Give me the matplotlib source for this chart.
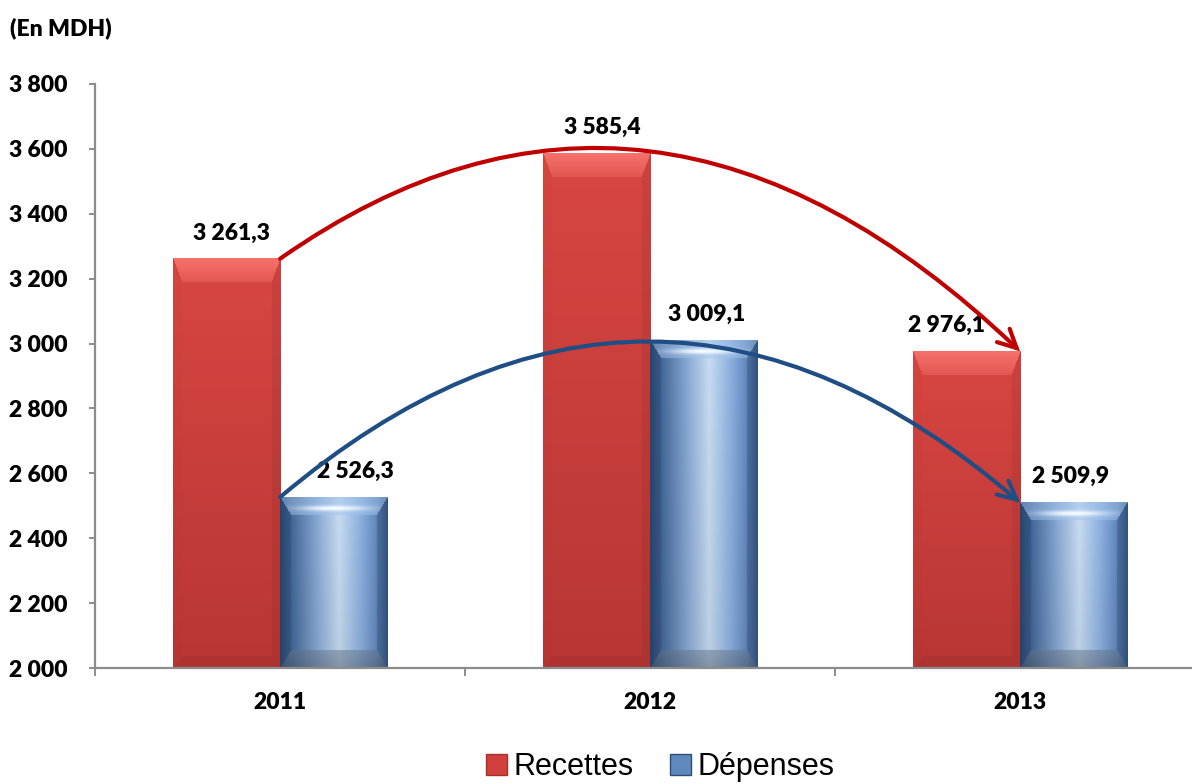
import numpy as np
import matplotlib
matplotlib.use("Agg")
import matplotlib.pyplot as plt
from matplotlib.path import Path
from matplotlib.patches import FancyArrowPatch, Rectangle

# ---- data -------------------------------------------------------------
years = ["2011", "2012", "2013"]
recettes = [3261.3, 3585.4, 2976.1]
depenses = [2526.3, 3009.1, 2509.9]
value_labels_rec = ["3 261,3", "3 585,4", "2 976,1"]
value_labels_dep = ["2 526,3", "3 009,1", "2 509,9"]
yticks = [2000, 2200, 2400, 2600, 2800, 3000, 3200, 3400, 3600, 3800]
ytick_labels = ["2 000", "2 200", "2 400", "2 600", "2 800",
                "3 000", "3 200", "3 400", "3 600", "3 800"]
series_names = ["Recettes", "Dépenses"]

Y_MIN, Y_MAX = 2000, 3800
BAR_W = 0.29
BOLD = dict(family=["Lato", "DejaVu Sans"], weight="heavy")

fig = plt.figure(figsize=(11.92, 7.84), dpi=100)
W_PX, H_PX = 1192, 784
ax_left, ax_bottom = 95 / W_PX, 1 - 668 / H_PX
ax = fig.add_axes([ax_left, ax_bottom, 1 - ax_left + 0.02, (668 - 84) / H_PX])
ax.set_ylim(Y_MIN, Y_MAX)
ax.set_xlim(-0.5, -0.5 + (1192 - 95 + 0.02 * W_PX) / 370.0)


def bevel_faces(w, h, d_top, d_side, d_bot):
    """Split a w x h pixel bar into bevel faces: 0 top, 1 left, 2 right, 3 bottom, 4 front."""
    i = np.arange(h)[:, None] * np.ones((1, w))
    j = np.ones((h, 1)) * np.arange(w)[None, :]
    dist = np.stack([i / d_top, j / d_side, (w - 1 - j) / d_side, (h - 1 - i) / d_bot])
    face = np.argmin(dist, axis=0)
    face[dist.min(axis=0) >= 1] = 4
    return face, i, j


def red_image(w, h):
    dt = min(24, h // 3)
    face, i, j = bevel_faces(w, h, dt, 9, 12)
    t = (i / max(h - 1, 1))[..., None]
    front = (1 - t) * np.array([216, 70, 66]) + t * np.array([184, 54, 52])
    img = front.copy()
    tt = (i / max(dt, 1))[..., None]
    top = (1 - tt) * np.array([246, 114, 108]) + tt * np.array([226, 86, 82])
    img[face == 0] = top[face == 0]
    img[face == 1] = (front * 0.985)[face == 1]
    img[face == 2] = (front * 0.94)[face == 2]
    img[face == 3] = (front * 0.94)[face == 3]
    return np.clip(img / 255.0, 0, 1)


def blue_image(w, h):
    dt = min(18, h // 3)
    face, i, j = bevel_faces(w, h, dt, 11, 18)
    u = j / max(w - 1, 1)
    stops = [0.0, 0.12, 0.35, 0.55, 0.75, 0.9, 1.0]
    cols = np.array([[40, 70, 110], [72, 108, 156], [138, 170, 212],
                     [200, 220, 242], [140, 176, 222], [98, 136, 190],
                     [56, 88, 132]])
    prof = np.stack([np.interp(u, stops, cols[:, k]) for k in range(3)], axis=-1)
    t = (i / max(h - 1, 1))[..., None]
    front = prof * (1 - 0.06 * t)
    img = front.copy()
    # top bevel: lighter with a bright highlight line
    tt = i / max(dt, 1)
    glow = np.exp(-((tt - 0.6) / 0.15) ** 2) * np.exp(-((u - 0.5) / 0.3) ** 2)
    top = 0.5 * prof + 0.5 * np.array([160, 194, 234])
    top = top + glow[..., None] * (np.array([248, 252, 255]) - top)
    img[face == 0] = top[face == 0]
    img[face == 1] = (0.65 * front + 0.35 * np.array([40, 70, 112]))[face == 1]
    img[face == 2] = (0.65 * front + 0.35 * np.array([44, 74, 116]))[face == 2]
    tb = (1 - (h - 1 - i) / 18.0)[..., None]
    bottom = 0.5 * front + 0.5 * ((1 - tb) * np.array([100, 118, 140])
                                  + tb * np.array([80, 90, 104]))
    img[face == 3] = bottom[face == 3]
    return np.clip(img / 255.0, 0, 1)


def draw_bar(x0, x1, top, maker):
    p0 = ax.transData.transform((x0, Y_MIN))
    p1 = ax.transData.transform((x1, top))
    w = max(int(round(p1[0] - p0[0])), 4)
    h = max(int(round(p1[1] - p0[1])), 4)
    ax.imshow(maker(w, h), extent=(x0, x1, Y_MIN, top), aspect="auto",
              interpolation="bilinear", zorder=2, origin="upper")


xs = np.arange(len(years))
for k in range(len(years)):
    draw_bar(xs[k] - BAR_W, xs[k], recettes[k], red_image)
    draw_bar(xs[k], xs[k] + BAR_W, depenses[k], blue_image)

# value labels above bars (small horizontal nudges keep them clear of arrows)
rec_dx = [4, 4, -14]
dep_dx = [16, 2, -2]
for k in range(len(years)):
    ax.annotate(value_labels_rec[k], (xs[k] - BAR_W / 2, recettes[k]),
                xytext=(rec_dx[k], 11), textcoords="offset points",
                ha="center", va="bottom", fontsize=16.5, color="black", **BOLD)
    ax.annotate(value_labels_dep[k], (xs[k] + BAR_W / 2, depenses[k]),
                xytext=(dep_dx[k], 11), textcoords="offset points",
                ha="center", va="bottom", fontsize=16.5, color="black", **BOLD)


# curved trend arrows, quadratic Bezier from the 2011 to the 2013 bars
def trend_arrow(y0, ymid, y2, color):
    cy = 2 * ymid - 0.5 * (y0 + y2)
    path = Path([(xs[0], y0), (xs[1], cy), (xs[2], y2)],
                [Path.MOVETO, Path.CURVE3, Path.CURVE3])
    arr = FancyArrowPatch(path=path, arrowstyle="->,head_length=0.6,head_width=0.3",
                          mutation_scale=22, lw=3.0, color=color, zorder=4,
                          capstyle="round", joinstyle="miter")
    ax.add_patch(arr)


trend_arrow(recettes[0], recettes[1] + 5, recettes[2], "#C00000")
trend_arrow(depenses[0], depenses[1] - 5, depenses[2], "#1F4E85")

# axes styling
for s in ["top", "right"]:
    ax.spines[s].set_visible(False)
for s in ["left", "bottom"]:
    ax.spines[s].set_color("#8C8C8C")
    ax.spines[s].set_linewidth(1.6)
    ax.spines[s].set_zorder(3)

ax.set_yticks(yticks)
ax.set_yticklabels(ytick_labels, fontsize=16.5, **BOLD)
ax.tick_params(axis="y", direction="out", length=4.5, width=1.4, color="#8C8C8C", pad=15)

ax.set_xticks([-0.5, 0.5, 1.5, 2.5])
ax.set_xticklabels([])
ax.tick_params(axis="x", which="major", direction="out", length=5.5, width=1.4,
               color="#8C8C8C")
ax.set_xticks(xs, minor=True)
ax.set_xticklabels(years, minor=True, fontsize=16.5, **BOLD)
ax.tick_params(axis="x", which="minor", length=0, pad=17)

fig.text(10 / W_PX, 1 - 28 / H_PX, "(En MDH)", ha="left", va="center",
         fontsize=16.5, **BOLD)

# legend
handles = [Rectangle((0, 0), 1, 1, facecolor="#D0403C", edgecolor="#A8302C", lw=1),
           Rectangle((0, 0), 1, 1, facecolor="#5F88BC", edgecolor="#2E4D75", lw=1)]
fig.legend(handles, series_names, loc="center", bbox_to_anchor=(660 / W_PX, 1 - 767 / H_PX),
           ncol=2, frameon=False, prop=dict(family=["Liberation Sans", "DejaVu Sans"], size=22),
           handlelength=0.7, handleheight=0.7, handletextpad=0.2, columnspacing=1.2,
           borderpad=0)

fig.savefig("out.png", dpi=100)
